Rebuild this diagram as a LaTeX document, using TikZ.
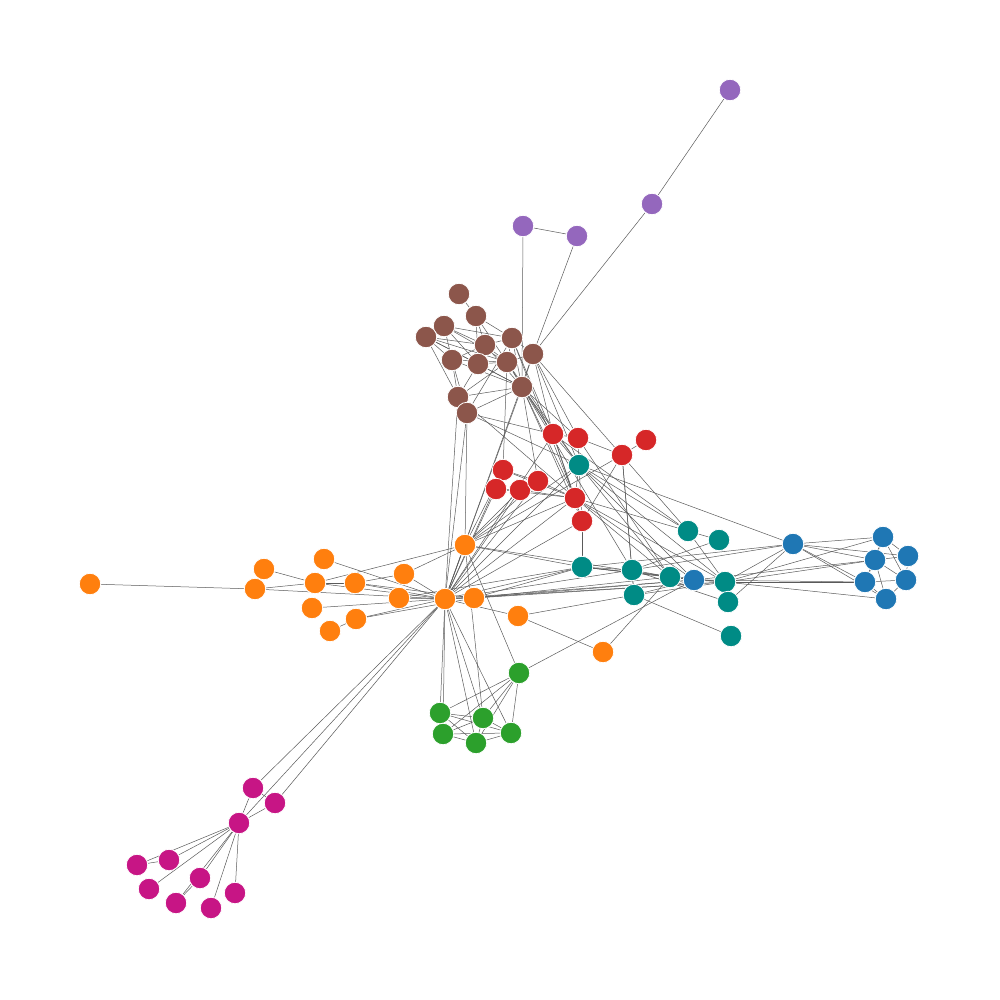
\documentclass[tikz,border=0pt]{standalone}
\usetikzlibrary{backgrounds}
\definecolor{cblue}{HTML}{1F77B4}
\definecolor{corange}{HTML}{FF7F0E}
\definecolor{cgreen}{HTML}{2CA02C}
\definecolor{cred}{HTML}{D62728}
\definecolor{cpurple}{HTML}{9467BD}
\definecolor{cbrown}{HTML}{8C564B}
\definecolor{cteal}{HTML}{008B85}
\definecolor{cmag}{HTML}{C71585}
\definecolor{edgec}{HTML}{5A5A5A}
\begin{document}
\begin{tikzpicture}[x=1pt,y=-1pt,
  nd/.style={circle,fill=#1,draw=white,line width=0.8pt,minimum size=21.5pt,inner sep=0pt},
  ed/.style={draw=edgec,line width=0.5pt}]
\useasboundingbox (0,0) rectangle (1000,1000);
% purple
\foreach \n/\x/\y in {P1/730/90,P2/652/204,P3/523/226,P4/577/236}
  \node[nd=cpurple] (\n) at (\x,\y) {};
% brown
\foreach \n/\x/\y in {B1/459/294,B2/476/316,B3/444/326,B4/426/337,B5/485/345,B6/512/338,B7/533/354,B8/452/360,B9/478/364,B10/507/362,B11/522/387,B12/458/397,B13/467/413}
  \node[nd=cbrown] (\n) at (\x,\y) {};
% red
\foreach \n/\x/\y in {R1/553/434,R2/578/438,R3/646/440,R4/622/455,R5/503/470,R6/496/489,R7/520/490,R8/538/481,R9/575/498,R10/582/521}
  \node[nd=cred] (\n) at (\x,\y) {};
% teal
\foreach \n/\x/\y in {T1/579/465,T2/688/531,T3/719/540,T4/582/567,T5/632/570,T6/670/577,T7/634/595,T8/725/582,T9/728/602,T10/731/636}
  \node[nd=cteal] (\n) at (\x,\y) {};
% blue
\foreach \n/\x/\y in {U1/694/580,U2/793/544,U3/883/537,U4/875/560,U5/908/556,U6/865/582,U7/906/580,U8/886/599}
  \node[nd=cblue] (\n) at (\x,\y) {};
% orange
\foreach \n/\x/\y in {O1/90/584,O2/255/589,O3/264/569,O4/324/559,O5/315/583,O6/355/583,O7/404/574,O8/465/545,O9/399/598,O10/445/599,O11/474/598,O12/312/608,O13/356/619,O14/330/631,O15/518/616,O16/603/652}
  \node[nd=corange] (\n) at (\x,\y) {};
% green
\foreach \n/\x/\y in {G1/519/673,G2/440/713,G3/483/718,G4/443/734,G5/476/743,G6/511/733}
  \node[nd=cgreen] (\n) at (\x,\y) {};
% magenta
\foreach \n/\x/\y in {M1/253/788,M2/275/803,M3/239/823,M4/169/860,M5/137/865,M6/200/878,M7/149/889,M8/235/893,M9/176/903,M10/211/908}
  \node[nd=cmag] (\n) at (\x,\y) {};
\begin{scope}[on background layer]
\foreach \a/\b in {P1/P2,P2/B7,P3/P4,P3/B11,P4/B7,
  B1/B2,B2/B5,B2/B6,B2/B9,B3/B4,B3/B5,B3/B8,B3/B9,B3/B10,B3/B6,B4/B8,B4/B12,B4/B5,B4/B9,B4/B10,B4/B11,
  B5/B6,B5/B9,B5/B8,B5/B10,B5/B11,B6/B10,B6/B11,B6/B7,B7/B10,B7/B11,B8/B12,B8/B11,B9/B10,B9/B11,B9/B12,
  B10/B11,B10/B12,B12/B13,B11/B13,B12/B11,B8/B13,B6/B13,B8/B10,B2/B10,
  B12/O10,B13/O10,B11/O10,B7/O10,B11/R1,B11/R2,B11/T1,B11/R9,B7/R1,B7/R2,B10/T1,B6/R9,B10/R1,B13/T1,B13/R1,
  B11/R10,B7/T1,B6/R1,B12/R9,B11/T5,B7/T2,B10/R5,B11/R8,B13/O8,
  R1/R2,R2/T1,R2/R4,R3/R4,R1/T1,R1/R9,R5/R8,R5/R6,R6/R7,R7/R8,R8/R9,R5/R9,R6/R9,R7/R9,T1/R9,T1/R10,R9/R10,
  R10/T4,R4/R10,R4/O8,R4/T7,R4/T5,R2/T6,R1/R10,
  T1/U2,T1/T2,T1/T8,T1/U1,T1/T6,T1/O8,T1/O10,
  O10/R5,O10/R6,O10/R7,O10/R8,O10/R1,O10/R9,O10/R10,
  O8/R5,O8/R8,O8/R9,O8/T4,O8/T6,O8/O10,O8/O7,O8/O5,O8/G1,O8/G3,O8/R7,
  O1/O2,O3/O5,O2/O5,O2/O10,O5/O6,O5/O10,O4/O10,O6/O10,O6/O7,O7/O10,O9/O10,O12/O10,O13/O10,O13/O14,O13/O11,O6/O11,
  O10/O11,O10/O15,O10/G2,O10/G4,O10/G3,O10/G5,O10/G6,O10/M1,O10/M2,O10/M3,
  O11/T8,O10/T5,O10/U1,O10/T4,O11/T6,O11/U1,O11/T4,O10/T8,
  O15/O16,O15/T7,O16/T6,G1/U1,O9/T4,
  G1/G2,G1/G3,G1/G4,G1/G5,G1/G6,G2/G3,G2/G4,G2/G5,G2/G6,G3/G4,G3/G5,G3/G6,G4/G5,G5/G6,G4/G6,
  M1/M3,M2/M3,M1/M2,M3/M4,M3/M5,M3/M6,M3/M7,M3/M8,M3/M9,M3/M10,M4/M5,M6/M9,
  T4/T5,T4/T6,T4/U1,T4/T8,T5/T6,T5/T7,T6/U1,U1/T8,T6/T8,T2/T3,T2/T8,T7/U1,T7/T8,T7/T10,T5/T9,
  T8/U2,T8/U3,T8/U4,T8/U6,T8/U8,U1/U6,U1/U4,T9/U2,
  U2/U3,U2/U4,U2/U6,U2/U8,U2/U5,U3/U4,U3/U5,U3/U7,U4/U5,U4/U6,U4/U7,U4/U8,U5/U7,U6/U7,U6/U8,U7/U8,U3/U6,
  T2/R1,T2/R9,T3/T5,R9/T6,R9/U1,R9/T8,U2/T4,U2/T5}
  \draw[ed] (\a) -- (\b);
\end{scope}
\end{tikzpicture}
\end{document}
